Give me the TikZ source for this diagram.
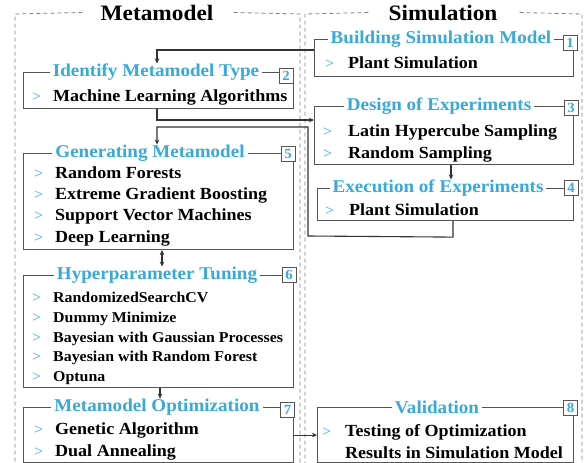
\documentclass[tikz,border=0pt]{standalone}
\usepackage{fontspec}
\setmainfont{Liberation Serif}[FakeStretch=1.06]
\usetikzlibrary{arrows.meta,calc}
\definecolor{tcyan}{HTML}{38A9D8}
\definecolor{bgray}{HTML}{555555}
\definecolor{cgray}{HTML}{333333}
\begin{document}
\begin{tikzpicture}[x=1pt,y=-1pt,
 box/.style={draw=bgray,line width=1.1pt,anchor=north west,inner sep=0pt},
 ttl/.style={fill=white,text=tcyan,font=\fontsize{18}{20}\selectfont\bfseries,inner xsep=3pt,inner ysep=0pt},
 badge/.style={draw=bgray,fill=white,line width=0.9pt,text=tcyan,font=\fontsize{14}{14}\selectfont\bfseries,minimum width=14pt,minimum height=15pt,inner sep=0pt},
 item/.style={anchor=base west,font=\fontsize{17}{17}\selectfont\bfseries,inner sep=0pt},
 sitem/.style={anchor=base west,font=\fontsize{15}{15}\selectfont\bfseries,inner sep=0pt},
 gt/.style={anchor=base west,text=tcyan,font=\fontsize{15}{15}\selectfont,inner sep=0pt},
 conn/.style={draw=cgray,line width=1.1pt},
 tip/.style={-{Stealth[length=5pt,width=4.5pt]}},
 dtip/.style={{Stealth[length=5pt,width=4.5pt]}-{Stealth[length=5pt,width=4.5pt]}},
 dbox/.style={draw=gray,dash pattern=on 4pt off 3pt,line width=0.8pt},
 head/.style={font=\fontsize{22}{22}\selectfont\bfseries,inner sep=0pt,anchor=base}
]
\useasboundingbox (0,0) rectangle (584,463);
% outer dashed frames
\node[head] (mt) at (157,20) {Metamodel};
\node[head] (st) at (443,20) {Simulation};
\draw[dbox] ($(mt.west)+(-18,0)$ |- 0,14) -- (15,14) -- (15,463);
\draw[dbox] ($(mt.east)+(20,0)$ |- 0,14) -- (300,14) -- (300,463);
\draw[dbox] ($(st.west)+(-20,0)$ |- 0,14) -- (305,14) -- (305,463);
\draw[dbox] ($(st.east)+(22,0)$ |- 0,14) -- (582,14) -- (582,463);
% boxes
\node[box,minimum width=259pt,minimum height=37pt] (b1) at (314,39) {};
\node[box,minimum width=270pt,minimum height=36pt] (b2) at (23,72) {};
\node[box,minimum width=259pt,minimum height=58pt] (b3) at (314,106) {};
\node[box,minimum width=256pt,minimum height=32pt] (b4) at (317,188) {};
\node[box,minimum width=270pt,minimum height=96pt] (b5) at (23,153) {};
\node[box,minimum width=270pt,minimum height=112pt] (b6) at (23,275) {};
\node[box,minimum width=270pt,minimum height=55pt] (b7) at (23,407) {};
\node[box,minimum width=256pt,minimum height=55pt] (b8) at (317,407) {};
% titles
\node[ttl] (t1) at (441,39) {Building Simulation Model};
\node[ttl] (t2) at (156,72) {Identify Metamodel Type};
\node[ttl] (t3) at (439,106) {Design of Experiments};
\node[ttl] (t4) at (438,188) {Execution of Experiments};
\node[ttl] (t5) at (150,153) {Generating Metamodel};
\node[ttl] (t6) at (157,275) {Hyperparameter Tuning};
\node[ttl] (t7) at (157,407) {Metamodel Optimization};
\node[ttl] (t8) at (437,407) {Validation};
% badges
\node[badge] (n1) at (570,43) {1};
\node[badge] (n2) at (286,76) {2};
\node[badge] (n3) at (571,107.5) {3};
\node[badge] (n4) at (571,187.5) {4};
\node[badge] (n5) at (288,154) {5};
\node[badge] (n6) at (289,275) {6};
\node[badge] (n7) at (287.5,409.5) {7};
\node[badge] (n8) at (570.5,407.5) {8};
% items
\node[gt] (g1) at (325,68) {>}; \node[item] (i1) at (348,68) {Plant Simulation};
\node[gt] (g2) at (32,101) {>}; \node[item] (i2) at (53,101) {Machine Learning Algorithms};
\node[gt] (g3a) at (323,136) {>}; \node[item] (i3a) at (348,136) {Latin Hypercube Sampling};
\node[gt] (g3b) at (323,158) {>}; \node[item] (i3b) at (348,158) {Random Sampling};
\node[gt] (g4) at (325,215) {>}; \node[item] (i4) at (349,215) {Plant Simulation};
\node[gt] (g5a) at (34,178) {>}; \node[item] (i5a) at (55,178) {Random Forests};
\node[gt] (g5b) at (34,199) {>}; \node[item] (i5b) at (55,199) {Extreme Gradient Boosting};
\node[gt] (g5c) at (34,220) {>}; \node[item] (i5c) at (55,220) {Support Vector Machines};
\node[gt] (g5d) at (34,242) {>}; \node[item] (i5d) at (55,242) {Deep Learning};
\node[gt] (g6a) at (32,302) {>}; \node[sitem] (i6a) at (53,302) {RandomizedSearchCV};
\node[gt] (g6b) at (32,322) {>}; \node[sitem] (i6b) at (53,322) {Dummy Minimize};
\node[gt] (g6c) at (32,342) {>}; \node[sitem] (i6c) at (53,342) {Bayesian with Gaussian Processes};
\node[gt] (g6d) at (32,361) {>}; \node[sitem] (i6d) at (53,361) {Bayesian with Random Forest};
\node[gt] (g6e) at (32,381) {>}; \node[sitem] (i6e) at (53,381) {Optuna};
\node[gt] (g7a) at (34,434) {>}; \node[item] (i7a) at (55,434) {Genetic Algorithm};
\node[gt] (g7b) at (34,456) {>}; \node[item] (i7b) at (55,456) {Dual Annealing};
\node[gt] (g8) at (322,436) {>}; \node[item] (i8a) at (345,436) {Testing of Optimization};
\node[item] (i8b) at (345,458) {Results in Simulation Model};
% connectors
\draw[conn,tip] ($(b1.north west)+(0,11)$) -| ($(t2.north)+(1,0)$);
\draw[conn,tip] ($(b2.south west)+(134,0)$) |- ($(b3.north west)+(0,14)$);
\coordinate (p3) at ($(b3.south west)+(137,0)$);
\draw[conn,tip] (p3) -- (p3 |- t4.north);
\coordinate (p4) at ($(b4.south west)+(136,0)$);
\coordinate (r1) at ($(p4)+(0,16)$);
\coordinate (r2) at (308,236);
\coordinate (r3) at (308,127);
\coordinate (r4) at (157,127);
\draw[conn,tip] (p4) -- (r1) -- (r2) -- (r3) -- (r4) -- (r4 |- t5.north);
\coordinate (p5) at ($(b5.south west)+(139,0)$);
\draw[conn,dtip] (p5) -- (p5 |- t6.north);
\coordinate (p6) at ($(b6.south west)+(137,0)$);
\draw[conn,tip] (p6) -- (p6 |- t7.north);
\draw[conn,tip] (b7.east) -- (b8.west);
\end{tikzpicture}
\end{document}
